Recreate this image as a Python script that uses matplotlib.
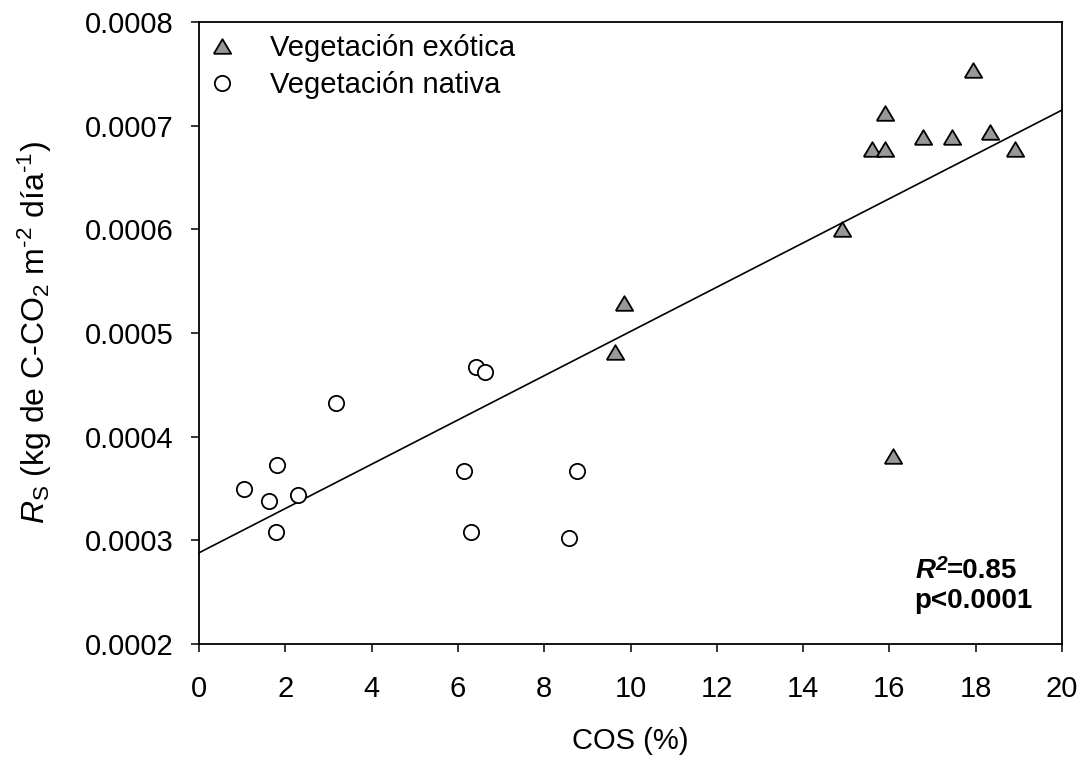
import numpy as np
import matplotlib
matplotlib.use("Agg")
import matplotlib.pyplot as plt
from matplotlib.ticker import MultipleLocator, FormatStrFormatter

plt.rcParams['font.family'] = ['Liberation Sans', 'DejaVu Sans']
plt.rcParams['mathtext.fontset'] = 'custom'
plt.rcParams['mathtext.rm'] = 'Liberation Sans'
plt.rcParams['mathtext.it'] = 'Liberation Sans:italic'
plt.rcParams['mathtext.bf'] = 'Liberation Sans:bold'
plt.rcParams['mathtext.bfit'] = 'Liberation Sans:bold:italic'

# Soil organic carbon (%) and soil respiration for each vegetation type
cos_exotica = [9.84, 9.65, 16.09, 17.94, 15.89, 15.60, 15.90, 16.77, 17.46, 18.34, 18.92, 14.91]
rs_exotica = [0.000529, 0.000482, 0.000381, 0.000754, 0.000712, 0.000677, 0.000677,
              0.000689, 0.000689, 0.000694, 0.000677, 0.000600]

cos_nativa = [1.04, 1.63, 1.80, 1.78, 2.30, 3.18, 6.13, 6.30, 6.42, 6.62, 8.57, 8.77]
rs_nativa = [0.0003495, 0.000338, 0.000373, 0.000308, 0.000344, 0.000432, 0.000367,
             0.000308, 0.0004675, 0.000462, 0.000302, 0.000367]

# Fitted regression line
intercept = 0.000288
slope = 2.135e-5
x_line = [0, 20]

r2_value = "0.85"
p_label = "p<0.0001"

fig = plt.figure(figsize=(10.84, 7.6), dpi=100)
ax = fig.add_axes([0.1836, 0.1526, 0.7961, 0.8185])

tri = [(-1.0, -0.84), (1.0, -0.84), (0.0, 0.84), (-1.0, -0.84)]

ax.plot(x_line, [intercept + slope * v for v in x_line], color='black', lw=1.2, zorder=2)
ax.plot(cos_exotica, rs_exotica, linestyle='none', marker=tri, markersize=12.5,
        markerfacecolor='#989898', markeredgecolor='black', markeredgewidth=1.3,
        label='Vegetación exótica', zorder=3)
ax.plot(cos_nativa, rs_nativa, linestyle='none', marker='o', markersize=11,
        markerfacecolor='white', markeredgecolor='black', markeredgewidth=1.3,
        label='Vegetación nativa', zorder=3)

ax.set_xlim(0, 20)
ax.set_ylim(0.0002, 0.0008)
ax.xaxis.set_major_locator(MultipleLocator(2))
ax.yaxis.set_major_locator(MultipleLocator(0.0001))
ax.yaxis.set_major_formatter(FormatStrFormatter('%.4f'))
ax.tick_params(direction='out', length=6, width=1.1, labelsize=21)
ax.tick_params(axis='x', pad=16)
ax.tick_params(axis='y', pad=12.5)
for s in ax.spines.values():
    s.set_linewidth(1.3)

ax.set_xlabel('COS (%)', fontsize=21, va='top')
ax.xaxis.set_label_coords(0.5, -0.1334)
ax.set_ylabel(r'$\mathit{R}_{\mathrm{S}}$ (kg de C-CO$_2$ m$^{\text{-2}}$ día$^{\text{-1}}$)',
              fontsize=23)
ax.yaxis.set_label_coords(-0.168, 0.5)

ax.legend(loc='upper left', frameon=False, fontsize=21, handletextpad=1.15,
          borderaxespad=0.0, borderpad=0.3, labelspacing=0.3, handlelength=1.0,
          bbox_to_anchor=(0.0, 0.994))

# Fit statistics, R in bold italic with a raised bold "2"
y1, y2 = 0.1061, 0.0579
t_r = ax.text(0.8297, y1, 'R', transform=ax.transAxes, fontsize=20,
              fontweight='bold', fontstyle='italic', ha='left', va='baseline')
t_sq = ax.annotate('2', xy=(1, y1), xycoords=(t_r, 'axes fraction'),
                   xytext=(0.3, 6), textcoords='offset points', fontsize=15,
                   fontweight='bold', fontstyle='italic', ha='left', va='baseline')
ax.annotate('=' + r2_value, xy=(1, y1), xycoords=(t_sq, 'axes fraction'),
            fontsize=20, fontweight='bold', ha='left', va='baseline')
ax.text(0.8285, y2, p_label, transform=ax.transAxes, fontsize=20,
        fontweight='bold', ha='left', va='baseline')

fig.savefig('out.png', dpi=100)
